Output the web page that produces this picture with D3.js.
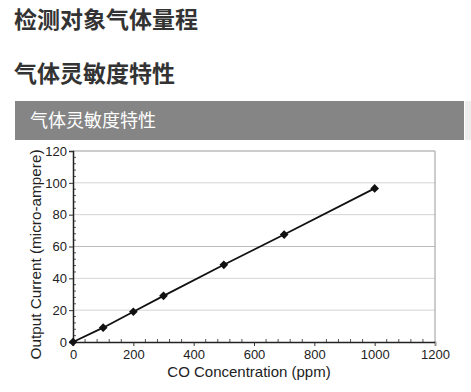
<!DOCTYPE html>
<html><head><meta charset="utf-8">
<script src="https://cdn.jsdelivr.net/npm/d3@7"></script>
<style>
html,body{margin:0;padding:0;background:#fff;width:471px;height:392px;overflow:hidden;}
svg{display:block;}
</style></head>
<body>
<svg id="c" width="471" height="392"></svg>
<script>
const headings = ["检测对象气体量程", "气体灵敏度特性"];
const barTitle = "气体灵敏度特性";
const concentration = [0, 100, 200, 300, 500, 700, 1000];
const current = [0, 9, 19, 29, 48.5, 67.5, 96.5];
const xTicks = [0, 200, 400, 600, 800, 1000, 1200];
const yTicks = [0, 20, 40, 60, 80, 100, 120];
const xTitle = "CO Concentration (ppm)";
const yTitle = "Output Current (micro-ampere)";

const svg = d3.select("#c");
const cjk = "'Noto Sans CJK SC','Noto Sans',sans-serif";
const sans = "'Liberation Sans',Arial,sans-serif";

svg.append("text").attr("x",14).attr("y",28).text(headings[0])
  .attr("font-family",cjk).attr("font-weight","bold").attr("font-size",23).attr("fill","#333");
svg.append("text").attr("x",14).attr("y",82).text(headings[1])
  .attr("font-family",cjk).attr("font-weight","bold").attr("font-size",23).attr("fill","#333");

svg.append("rect").attr("x",15).attr("y",101).attr("width",449).attr("height",39).attr("fill","#858585");
svg.append("rect").attr("x",465).attr("y",101).attr("width",6).attr("height",39).attr("fill","#eeeeee");
svg.append("text").attr("x",30).attr("y",127).text(barTitle)
  .attr("font-family",cjk).attr("font-size",18).attr("fill","#fff");

const L=73, R=435, T=151, B=342;
const x = d3.scaleLinear().domain([0,1200]).range([L,R]);
const y = d3.scaleLinear().domain([0,120]).range([B,T]);

// gridlines
svg.append("g").selectAll("line").data(yTicks.filter(d=>d>0 && d<120)).join("line")
  .attr("x1",L).attr("x2",R).attr("y1",d=>y(d)).attr("y2",d=>y(d))
  .attr("stroke",d=>d===60?"#bbb":"#d4d4d4").attr("stroke-width",1);
// top & right border
svg.append("line").attr("x1",L).attr("x2",R).attr("y1",T).attr("y2",T).attr("stroke","#999").attr("stroke-width",1.2);
svg.append("line").attr("x1",R).attr("x2",R).attr("y1",T).attr("y2",B).attr("stroke","#aaa").attr("stroke-width",1.2);

// minor ticks
const yMinor = d3.range(0,121,4).filter(d=>d%20!==0);
svg.append("g").selectAll("line").data(yMinor).join("line")
  .attr("x1",L).attr("x2",L+3).attr("y1",d=>y(d)).attr("y2",d=>y(d)).attr("stroke","#555");
const xMinor = d3.range(0,1201,40).filter(d=>d%200!==0);
svg.append("g").selectAll("line").data(xMinor).join("line")
  .attr("x1",d=>x(d)).attr("x2",d=>x(d)).attr("y1",B-3).attr("y2",B).attr("stroke","#555");

// axes
const yAxis = svg.append("g").attr("transform",`translate(${L},0)`)
  .call(d3.axisLeft(y).tickValues(yTicks).tickSize(4).tickPadding(2).tickFormat(d3.format("d")));
const xAxis = svg.append("g").attr("transform",`translate(0,${B})`)
  .call(d3.axisBottom(x).tickValues(xTicks).tickSize(4).tickPadding(4).tickFormat(d3.format("d")));
[yAxis,xAxis].forEach(g=>{
  g.select(".domain").attr("stroke","#222").attr("stroke-width",1.5);
  g.selectAll(".tick line").attr("stroke","#333");
  g.selectAll("text").attr("font-family",sans).attr("font-size",13).attr("fill","#222");
});
xAxis.selectAll(".tick line").filter(d=>d===1200).attr("stroke","#999");

// titles
svg.append("text").attr("x",249).attr("y",377).attr("text-anchor","middle").text(xTitle)
  .attr("font-family",sans).attr("font-size",15).attr("fill","#222");
svg.append("text").attr("transform",`translate(41,${(T+B)/2+8}) rotate(-90)`).attr("text-anchor","middle").text(yTitle)
  .attr("font-family",sans).attr("font-size",15.3).attr("fill","#222");

// series
const pts = concentration.map((c,i)=>[c,current[i]]);
svg.append("path").datum(pts)
  .attr("d",d3.line().x(d=>x(d[0])).y(d=>y(d[1])))
  .attr("fill","none").attr("stroke","#111").attr("stroke-width",1.8);
svg.append("g").selectAll("path").data(pts).join("path")
  .attr("transform",d=>`translate(${x(d[0])},${y(d[1])})`)
  .attr("d",d3.symbol(d3.symbolDiamond2,48)).attr("fill","#111");
</script>
</body></html>
